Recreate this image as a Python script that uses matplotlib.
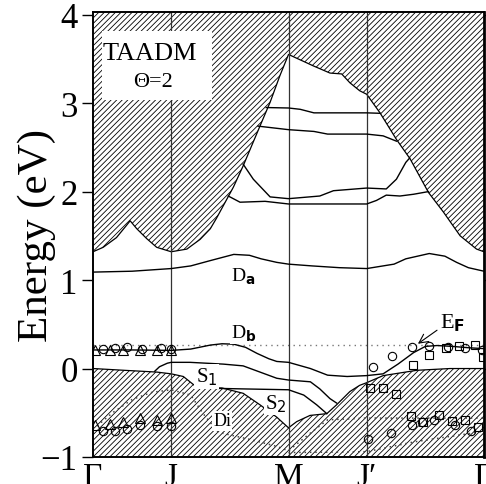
import numpy as np
import matplotlib
matplotlib.use("Agg")
import matplotlib.pyplot as plt

plt.rcParams['font.family'] = ['Liberation Serif', 'DejaVu Serif']
plt.rcParams['hatch.linewidth'] = 0.6
plt.rcParams['mathtext.fontset'] = 'dejavusans'

# ---- k-path ----
kpts = [0.0, 0.2, 0.5, 0.7, 1.0]
klabels = ['Γ', 'J', 'M', 'J′', 'Γ']
yticks = [-1, 0, 1, 2, 3, 4]
ylabels = ['−1', '0', '1', '2', '3', '4']

# ---- projected bulk continua ----
upper_k = [0.0, 0.026, 0.06, 0.086, 0.095, 0.112, 0.137, 0.163, 0.2, 0.24, 0.274, 0.30,
           0.316, 0.359, 0.384, 0.427, 0.453, 0.478, 0.5, 0.564, 0.606, 0.636, 0.657,
           0.682, 0.7, 0.734, 0.776, 0.811, 0.858, 0.896, 0.939, 0.981, 1.0]
upper_E = [1.32, 1.37, 1.48, 1.62, 1.67, 1.58, 1.47, 1.37, 1.32, 1.35, 1.46, 1.58,
           1.70, 2.05, 2.29, 2.74, 3.01, 3.31, 3.55, 3.42, 3.34, 3.33, 3.23,
           3.14, 3.10, 2.89, 2.59, 2.37, 1.99, 1.77, 1.50, 1.35, 1.32]

lower_k = [0.0, 0.08, 0.163, 0.2, 0.231, 0.265, 0.29, 0.33, 0.384, 0.427, 0.47, 0.5,
           0.521, 0.555, 0.598, 0.623, 0.657, 0.682, 0.7, 0.742, 0.828, 0.913, 1.0]
lower_E = [0.0, -0.02, -0.04, -0.06, -0.09, -0.21, -0.22, -0.22, -0.28, -0.41, -0.55, -0.67,
           -0.60, -0.53, -0.51, -0.41, -0.26, -0.19, -0.16, -0.08, -0.02, 0.0, 0.0]

# ---- surface / defect bands ----
Da_k = [0.0, 0.1, 0.2, 0.25, 0.3, 0.36, 0.4, 0.43, 0.47, 0.5, 0.56, 0.63, 0.7,
        0.77, 0.8, 0.86, 0.9, 0.93, 0.96, 1.0]
Da_E = [1.09, 1.10, 1.13, 1.16, 1.22, 1.29, 1.28, 1.24, 1.20, 1.18, 1.16, 1.14, 1.13,
        1.18, 1.24, 1.30, 1.27, 1.20, 1.14, 1.10]

Db_k = [0.0, 0.1, 0.2, 0.25, 0.3, 0.33, 0.36, 0.39, 0.42, 0.45, 0.47, 0.5, 0.556,
        0.6, 0.65, 0.7, 0.742, 0.78, 0.82, 0.85, 0.88, 0.92, 0.96, 1.0]
Db_E = [0.21, 0.21, 0.205, 0.22, 0.265, 0.28, 0.275, 0.24, 0.17, 0.11, 0.08, 0.07, 0.0,
        -0.075, -0.09, -0.08, -0.06, 0.05, 0.18, 0.25, 0.26, 0.25, 0.235, 0.225]

S1_k = [0.158, 0.17, 0.19, 0.2, 0.248, 0.333, 0.384, 0.427, 0.47, 0.5, 0.556, 0.58, 0.606, 0.623]
S1_E = [-0.03, 0.02, 0.06, 0.07, 0.07, 0.05, 0.03, -0.04, -0.11, -0.13, -0.15, -0.23, -0.34, -0.39]

S2_k = [0.27, 0.38, 0.5, 0.539, 0.572, 0.598]
S2_E = [-0.22, -0.23, -0.24, -0.30, -0.41, -0.51]

L1_k = [0.443, 0.5, 0.53, 0.565, 0.7, 0.734]
L1_E = [2.95, 2.945, 2.93, 2.89, 2.89, 2.885]
L2_k = [0.422, 0.5, 0.565, 0.6, 0.7, 0.742, 0.776]
L2_E = [2.74, 2.70, 2.68, 2.65, 2.65, 2.63, 2.57]
L3_k = [0.384, 0.41, 0.453, 0.5, 0.58, 0.615, 0.7, 0.75, 0.776, 0.8, 0.81]
L3_E = [2.31, 2.14, 1.94, 1.92, 1.95, 2.01, 2.04, 2.03, 2.14, 2.33, 2.38]
L4_k = [0.346, 0.376, 0.44, 0.5, 0.6, 0.7, 0.725, 0.75, 0.785, 0.82, 0.858]
L4_E = [1.95, 1.88, 1.89, 1.86, 1.86, 1.86, 1.90, 1.96, 1.95, 1.97, 2.0]

# Di (dotted) bands
Di1_k = [0.01, 0.05, 0.1, 0.15, 0.2, 0.25, 0.28, 0.32, 0.4, 0.47, 0.5, 0.55, 0.6, 0.7, 0.8, 1.0]
Di1_E = [-0.65, -0.5, -0.35, -0.27, -0.24, -0.3, -0.5, -0.72, -0.8, -0.88, -0.93, -0.75, -0.58, -0.56, -0.56, -0.56]
Di2_k = [0.5, 0.7, 0.82, 1.0]
Di2_E = [-0.95, -0.94, -0.83, -0.71]

EF = 0.27

# ---- experimental points ----
triU_k = [0.005, 0.044, 0.078, 0.12, 0.163, 0.2]
triU_E = [0.205, 0.205, 0.205, 0.205, 0.205, 0.205]
cirU_k = [0.025, 0.056, 0.088, 0.125, 0.173, 0.2]
cirU_E = [0.22, 0.23, 0.24, 0.22, 0.23, 0.22]
triL_k = [0.005, 0.044, 0.078, 0.12, 0.163, 0.2]
triL_E = [-0.64, -0.63, -0.61, -0.56, -0.58, -0.56]
cirL_k = [0.026, 0.056, 0.086, 0.12, 0.163, 0.2]
cirL_E = [-0.71, -0.71, -0.68, -0.64, -0.65, -0.65]

cirRU_k = [0.715, 0.764, 0.815, 0.86, 0.909, 0.951, 0.996]
cirRU_E = [0.02, 0.14, 0.24, 0.26, 0.245, 0.23, 0.21]
sqRU_k = [0.819, 0.859, 0.903, 0.935, 0.977, 0.998]
sqRU_E = [0.045, 0.15, 0.23, 0.26, 0.27, 0.13]
sqRL_k = [0.708, 0.742, 0.775, 0.813, 0.845, 0.886, 0.919, 0.951, 0.985]
sqRL_E = [-0.22, -0.22, -0.29, -0.54, -0.60, -0.53, -0.59, -0.58, -0.66]
cirRL_k = [0.704, 0.762, 0.815, 0.841, 0.872, 0.925, 0.968]
cirRL_E = [-0.80, -0.73, -0.64, -0.60, -0.58, -0.64, -0.71]

YMIN, YMAX = -1.0, 4.03

fig = plt.figure(figsize=(4.86, 4.85), dpi=100)
ax = fig.add_axes([93/486, 27/485, 391/486, 445/485])
ax.set_xlim(0, 1)
ax.set_ylim(YMIN, YMAX)

# hatched continua
ax.fill_between(upper_k, upper_E, YMAX, facecolor='white', edgecolor='black',
                hatch='//////', linewidth=0, zorder=1)
ax.plot(upper_k, upper_E, color='black', lw=0.9, zorder=2)
ax.fill_between(lower_k, YMIN, lower_E, facecolor='white', edgecolor='black',
                hatch='//////', linewidth=0, zorder=1)
ax.plot(lower_k, lower_E, color='black', lw=0.9, zorder=2)

# vertical symmetry lines
for k in kpts[1:-1]:
    ax.axvline(k, color='#333333', lw=0.9, zorder=3)

# Fermi level
ax.axhline(EF, color='#777777', lw=1.0, ls=(0, (1, 3)), zorder=2)

# bands
for kk, ee in [(Da_k, Da_E), (Db_k, Db_E), (S1_k, S1_E), (S2_k, S2_E),
               (L1_k, L1_E), (L2_k, L2_E), (L3_k, L3_E), (L4_k, L4_E)]:
    ax.plot(kk, ee, color='black', lw=1.0, zorder=4)
for kk, ee in [(Di1_k, Di1_E), (Di2_k, Di2_E)]:
    ax.plot(kk, ee, color='#444444', lw=1.1, ls=(0, (1, 2.5)), zorder=3)

# data points
mk = dict(linestyle='none', markerfacecolor='none', markeredgecolor='black',
          markeredgewidth=0.8, zorder=5)
ax.plot(triU_k, triU_E, marker='^', markersize=7, **mk)
ax.plot(cirU_k, cirU_E, marker='o', markersize=6, **mk)
ax.plot(triL_k, triL_E, marker='^', markersize=7, **mk)
ax.plot(cirL_k, cirL_E, marker='o', markersize=6, **mk)
ax.plot(cirRU_k, cirRU_E, marker='o', markersize=6, **mk)
ax.plot(sqRU_k, sqRU_E, marker='s', markersize=6, **mk)
ax.plot(sqRL_k, sqRL_E, marker='s', markersize=6, **mk)
ax.plot(cirRL_k, cirRL_E, marker='o', markersize=6, **mk)

# labels
box = dict(facecolor='white', edgecolor='none', pad=1.0)
ax.text(0.353, 0.99, r'D$_{\mathbf{a}}$', fontsize=14, zorder=6, bbox=box)
ax.text(0.353, 0.35, r'D$_{\mathbf{b}}$', fontsize=14, zorder=6, bbox=box)
ax.text(0.263, -0.15, r'S$_{1}$', fontsize=15, zorder=6, bbox=box)
ax.text(0.44, -0.45, r'S$_{2}$', fontsize=15, zorder=6, bbox=box)
ax.text(0.307, -0.64, 'Di', fontsize=13, zorder=6, bbox=box)
ax.annotate(r'E$_{\mathbf{F}}$', xy=(0.831, 0.28), xytext=(0.887, 0.47),
            fontsize=16, zorder=6,
            arrowprops=dict(arrowstyle='->', color='black', lw=0.8,
                            shrinkA=0, shrinkB=0, relpos=(0.0, 0.2)))

# TAADM box
ax.add_patch(plt.Rectangle((0.022, 3.04), 0.282, 0.77, facecolor='white',
                           edgecolor='none', zorder=6))
ax.text(0.146, 3.57, 'TAADM', fontsize=19, ha='center', va='center', zorder=7)
ax.text(0.153, 3.24, 'Θ=2', fontsize=16, ha='center', va='center', zorder=7)

# axes styling
ax.set_xticks(kpts)
ax.set_xticklabels(klabels, fontsize=24)
ax.tick_params(axis='x', length=0, pad=3)
ax.set_yticks(yticks)
ax.set_yticklabels(ylabels, fontsize=25)
ax.tick_params(axis='y', direction='out', length=8, width=1.0, right=True, pad=3)
ax.set_ylabel('Energy (eV)', fontsize=31)
ax.yaxis.set_label_coords(-0.095, 0.5)
for s in ax.spines.values():
    s.set_linewidth(1.4)
    s.set_zorder(8)
ax.spines['right'].set_linewidth(2.0)

fig.savefig('out.png', dpi=100)
